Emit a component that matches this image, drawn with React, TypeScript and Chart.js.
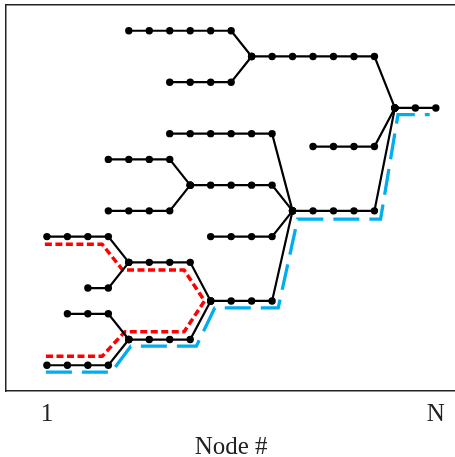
import React, { useEffect, useRef } from "react";
import { Chart, registerables } from "chart.js";

Chart.register(...registerables);

// x axis: node index (0 -> "1", 19 -> "N")
const xTickValues = [0, 19];
const xTickLabels = ["1", "N"];
const xAxisTitle = "Node #";

// Tree branches: [node position, level]
const branchA = [[4, 13], [5, 13], [6, 13], [7, 13], [8, 13], [9, 13], [10, 12]];
const branchB = [[6, 11], [7, 11], [8, 11], [9, 11], [10, 12]];
const branchC = [[10, 12], [11, 12], [12, 12], [13, 12], [14, 12], [15, 12], [16, 12], [17, 10]];
const branchD = [[17, 10], [18, 10], [19, 10]];
const branchE = [[13, 8.5], [14, 8.5], [15, 8.5], [16, 8.5], [17, 10]];
const branchF = [[12, 6], [13, 6], [14, 6], [15, 6], [16, 6], [17, 10]];
const branchG = [[6, 9], [7, 9], [8, 9], [9, 9], [10, 9], [11, 9], [12, 6]];
const branchH = [[3, 8], [4, 8], [5, 8], [6, 8], [7, 7]];
const branchI = [[3, 6], [4, 6], [5, 6], [6, 6], [7, 7]];
const branchJ = [[7, 7], [8, 7], [9, 7], [10, 7], [11, 7], [12, 6]];
const branchK = [[8, 5], [9, 5], [10, 5], [11, 5], [12, 6]];
const branchL = [[8, 2.5], [9, 2.5], [10, 2.5], [11, 2.5], [12, 6]];
const branchM = [[0, 5], [1, 5], [2, 5], [3, 5], [4, 4]];
const branchN = [[2, 3], [3, 3], [4, 4]];
const branchO = [[4, 4], [5, 4], [6, 4], [7, 4], [8, 2.5]];
const branchP = [[1, 2], [2, 2], [3, 2], [4, 1]];
const branchQ = [[0, 0], [1, 0], [2, 0], [3, 0], [4, 1]];
const branchR = [[4, 1], [5, 1], [6, 1], [7, 1], [8, 2.5]];

const treeBranches = [
  branchA, branchB, branchC, branchD, branchE, branchF, branchG, branchH, branchI,
  branchJ, branchK, branchL, branchM, branchN, branchO, branchP, branchQ, branchR,
];

// Red dashed path (leaf to leaf through common ancestor)
const redPathX = [-0.1, 2.7, 3.7, 6.7, 7.7, 6.7, 3.8, 2.7, -0.1];
const redPathY = [4.7, 4.7, 3.7, 3.7, 2.5, 1.3, 1.3, 0.35, 0.35];

// Blue dashed path (leaf to root)
const bluePathX = [-0.05, 3.15, 4.1, 7.3, 8.2, 11.3, 12.25, 16.3, 17.15, 18.7];
const bluePathY = [-0.27, -0.27, 0.74, 0.74, 2.23, 2.23, 5.68, 5.68, 9.74, 9.74];

const FONT = "'Liberation Serif', 'Times New Roman', serif";
const FRAME = "#222";

export default function App() {
  const ref = useRef<HTMLCanvasElement | null>(null);

  useEffect(() => {
    const canvas = ref.current;
    if (!canvas) return;

    const blackSets = treeBranches.map((b) => ({
      data: b.map(([x, y]) => ({ x, y })),
      showLine: true,
      borderColor: "#000",
      borderWidth: 2.2,
      pointRadius: 3.7,
      pointBackgroundColor: "#000",
      pointBorderColor: "#000",
      pointBorderWidth: 0,
      pointHoverRadius: 3.7,
    }));

    const chart = new Chart(canvas, {
      type: "scatter",
      data: {
        datasets: [
          ...blackSets,
          {
            data: redPathX.map((x, i) => ({ x, y: redPathY[i] })),
            showLine: true,
            borderColor: "#ff0000",
            borderWidth: 3.5,
            borderDash: [7, 3.5],
            borderJoinStyle: "round",
            pointRadius: 0,
          },
          {
            data: bluePathX.map((x, i) => ({ x, y: bluePathY[i] })),
            showLine: true,
            borderColor: "#00aeef",
            borderWidth: 3.3,
            borderDash: [26, 10],
            pointRadius: 0,
          },
        ],
      },
      options: {
        responsive: false,
        animation: false,
        devicePixelRatio: 1,
        layout: { padding: { left: 6, top: 5, right: 0, bottom: 0 } },
        plugins: { legend: { display: false }, tooltip: { enabled: false } },
        events: [],
        scales: {
          x: {
            type: "linear",
            position: "bottom",
            min: -2,
            max: 20,
            afterBuildTicks: (axis: any) => {
              axis.ticks = xTickValues.map((v) => ({ value: v }));
            },
            afterFit: (axis: any) => {
              axis.height = 66;
            },
            ticks: {
              callback: (v: any) => {
                const i = xTickValues.indexOf(Number(v));
                return i >= 0 ? xTickLabels[i] : "";
              },
              font: { family: FONT, size: 25, lineHeight: 1 },
              color: "#222",
              padding: 11,
              maxRotation: 0,
              autoSkip: false,
            },
            grid: { display: false, drawTicks: false },
            border: { display: true, color: FRAME, width: 1.5 },
            title: {
              display: true,
              text: xAxisTitle,
              font: { family: FONT, size: 25, lineHeight: 1 },
              color: "#222",
              padding: { top: 0, bottom: -3 },
            },
          },
          x2: {
            type: "linear",
            position: "top",
            min: -2,
            max: 20,
            ticks: { display: false },
            grid: { display: false, drawTicks: false },
            border: { display: true, color: FRAME, width: 1.5 },
          },
          y: {
            type: "linear",
            min: -1,
            max: 14,
            ticks: { display: false },
            grid: { display: false, drawTicks: false },
            border: { display: true, color: FRAME, width: 1.5 },
          },
        },
      },
    } as any);

    return () => chart.destroy();
  }, []);

  return (
    <div
      style={{
        position: "fixed",
        left: 0,
        top: 0,
        width: 455,
        height: 457,
        overflow: "hidden",
        background: "#fff",
      }}
    >
      <canvas ref={ref} width={460} height={457} style={{ display: "block" }} />
    </div>
  );
}
